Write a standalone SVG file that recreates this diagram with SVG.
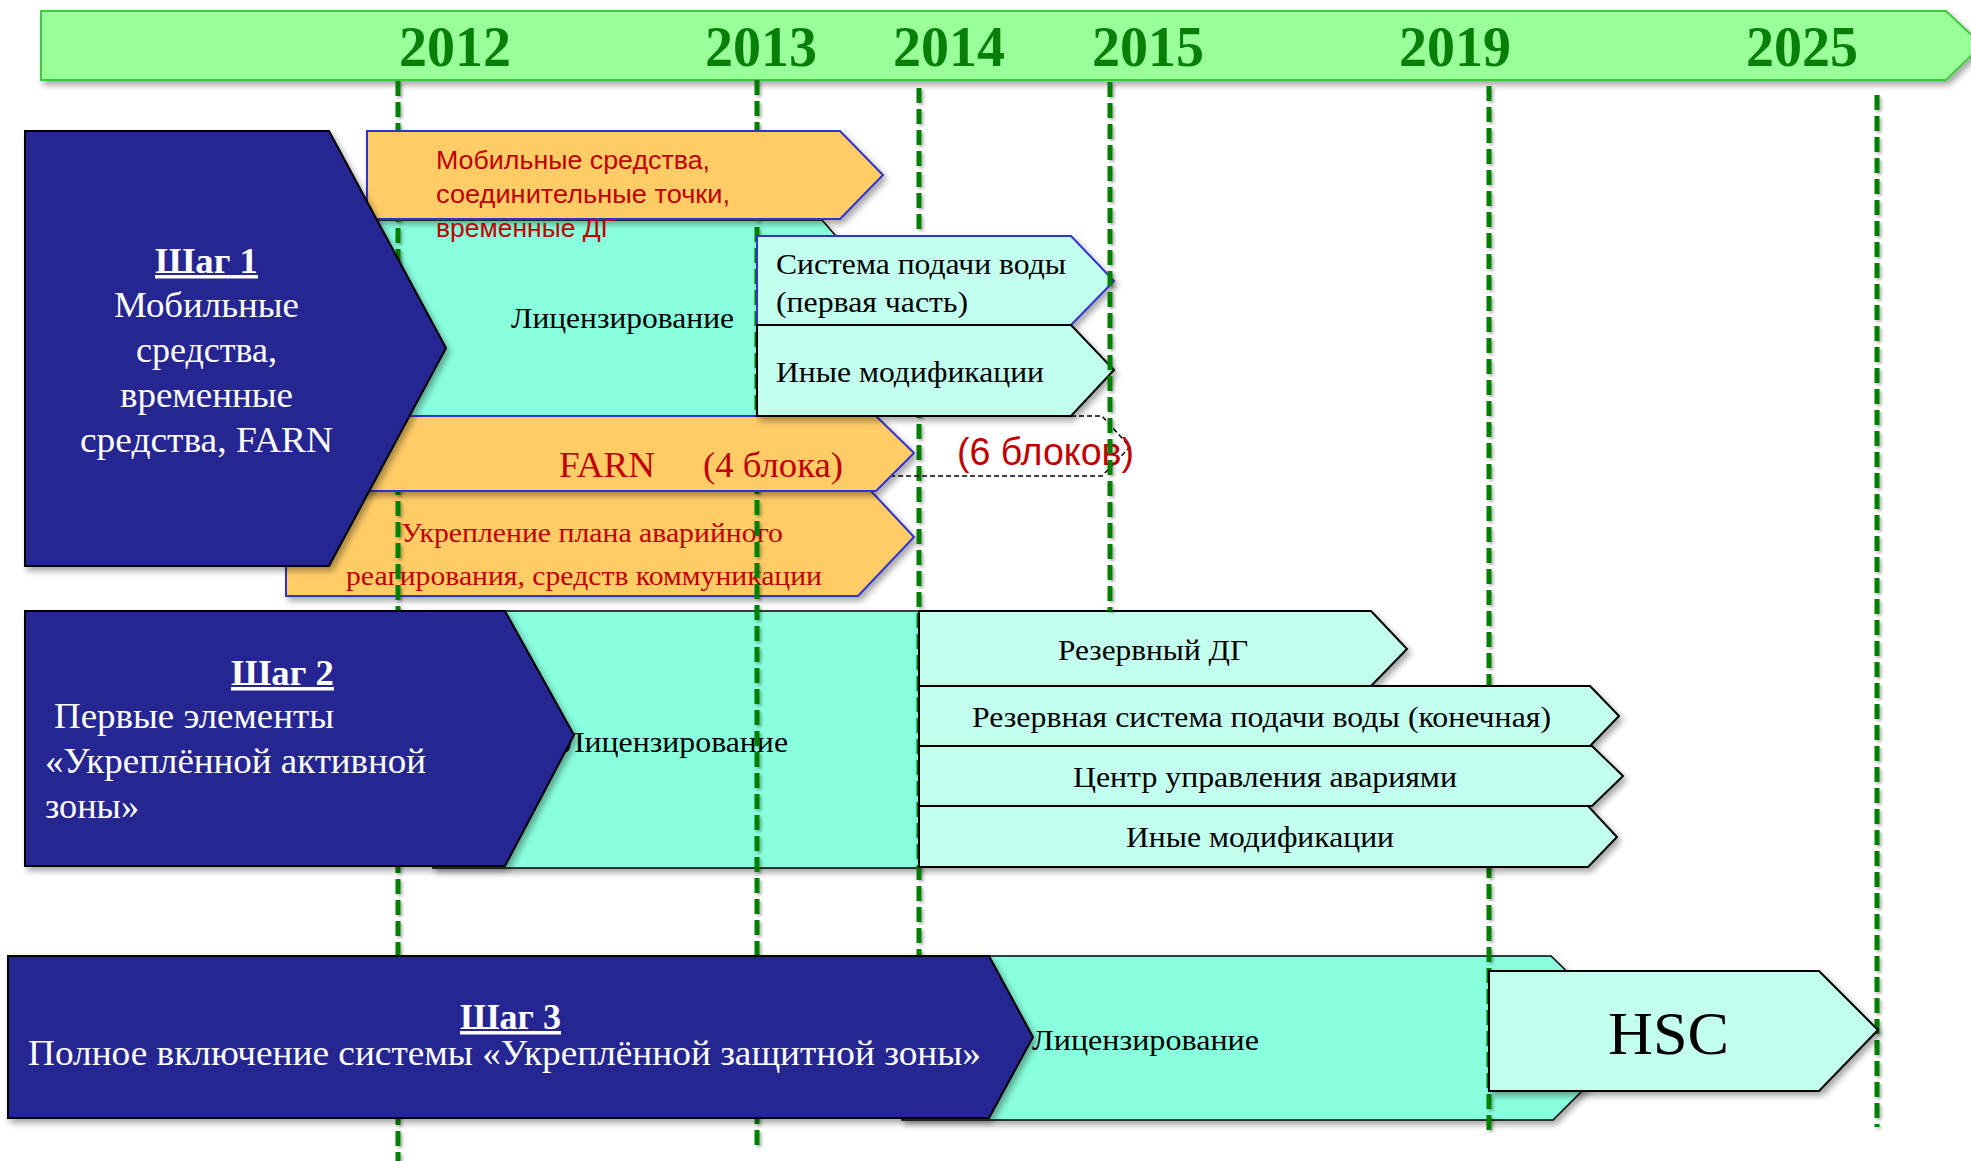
<svg xmlns="http://www.w3.org/2000/svg" width="1971" height="1161" viewBox="0 0 1971 1161">
<defs>
<filter id="sh" x="-5%" y="-10%" width="115%" height="130%">
<feDropShadow dx="3" dy="4" stdDeviation="3" flood-color="#000" flood-opacity="0.35"/>
</filter>
<filter id="lsh" filterUnits="userSpaceOnUse" x="0" y="0" width="1971" height="1161">
<feDropShadow dx="2" dy="2" stdDeviation="1.5" flood-color="#000" flood-opacity="0.3"/>
</filter>
</defs>
<style>
.ser{font-family:"Liberation Serif","Times New Roman",serif}
.san{font-family:"Liberation Sans",Arial,sans-serif}
.w{fill:#fff;font-size:35px}
.k{fill:#000}
.r{fill:#C00000}
.yr{font-family:"Liberation Serif","Times New Roman",serif;font-weight:bold;font-size:56px;fill:#087f08;text-anchor:middle}
.ul{font-weight:bold;text-decoration:underline}
.blue{fill:#262692;stroke:#000;stroke-width:2}
.teal{fill:#88FFDD;stroke:#000;stroke-width:1.5}
.lt{fill:#C2FFEE;stroke:#000;stroke-width:2}
.ltb{fill:#C2FFEE;stroke:#3333CC;stroke-width:2}
.or{fill:#FFCC66;stroke:#3333CC;stroke-width:2}
.guide{stroke:#067f06;stroke-width:5;stroke-dasharray:15 6;fill:none}
.dash{fill:none;stroke:#000;stroke-width:1.5;stroke-dasharray:5 3}
</style>

<g id="timeline">
<polygon points="41,11 1946,11 1982,45 1946,80 41,80" fill="#99FF99" stroke="#3DCB3D" stroke-width="2" filter="url(#sh)"/>
<text class="yr" x="455" y="66">2012</text>
<text class="yr" x="761" y="66">2013</text>
<text class="yr" x="949" y="66">2014</text>
<text class="yr" x="1148" y="66">2015</text>
<text class="yr" x="1455" y="66">2019</text>
<text class="yr" x="1802" y="66">2025</text>
</g>

<!-- bottom layer bars -->
<g id="lic1">
<polygon class="teal" points="340,220 822,220 907,318 822,416 340,416" filter="url(#sh)"/>
<text class="ser k" x="511" y="328" font-size="29" textLength="223" lengthAdjust="spacingAndGlyphs">Лицензирование</text>
</g>
<g id="lic2">
<polygon class="teal" points="433,611 919,611 919,868 433,868" filter="url(#sh)"/>
<text class="ser k" x="563" y="752" font-size="29" textLength="225" lengthAdjust="spacingAndGlyphs">Лицензирование</text>
</g>
<g id="lic3">
<polygon class="teal" points="902,956 1551,956 1635,1038 1553,1120 902,1120" filter="url(#sh)"/>
<text class="ser k" x="1032" y="1050" font-size="29" textLength="227" lengthAdjust="spacingAndGlyphs">Лицензирование</text>
</g>
<g id="emergency-plan">
<polygon class="or" points="286,491 871,491 914,537 858,596 286,596" filter="url(#sh)"/>
<text class="ser r" x="401" y="542" font-size="28" textLength="382" lengthAdjust="spacingAndGlyphs">Укрепление плана аварийного</text>
<text class="ser r" x="346" y="585" font-size="28" textLength="476" lengthAdjust="spacingAndGlyphs">реагирования, средств коммуникации</text>
</g>

<g id="connectors" filter="url(#lsh)">
<line class="guide" x1="398" y1="81" x2="398" y2="1161"/>
<line class="guide" x1="757" y1="80" x2="757" y2="1146"/>
<line class="guide" x1="919" y1="88" x2="919" y2="955"/>
<line class="guide" x1="1489" y1="86" x2="1489" y2="1135"/>
<line class="guide" x1="1877" y1="95" x2="1877" y2="1127"/>
</g>

<g id="mobile">
<polygon class="or" points="367,131 840,131 883,175 840,219 367,219" filter="url(#sh)"/>
<text class="san r" font-size="25"><tspan x="436" y="169" textLength="274" lengthAdjust="spacingAndGlyphs">Мобильные средства,</tspan><tspan x="436" y="203" textLength="294" lengthAdjust="spacingAndGlyphs">соединительные точки,</tspan><tspan x="436" y="237" textLength="179" lengthAdjust="spacingAndGlyphs">временные ДГ</tspan></text>
</g>

<g id="farn">
<polygon class="or" points="340,416 876,416 914,453 876,491 340,491" filter="url(#sh)"/>
<text class="ser r" font-size="35" y="477"><tspan x="559" textLength="96" lengthAdjust="spacingAndGlyphs">FARN</tspan><tspan x="703" textLength="140" lengthAdjust="spacingAndGlyphs">(4 блока)</tspan></text>
</g>
<g id="farn6">
<path class="dash" d="M1071,416 L1102,416 L1130,447 L1102,476 L892,476"/>
<text class="san r" x="957" y="465" font-size="38" textLength="177" lengthAdjust="spacingAndGlyphs">(6 блоков)</text>
</g>

<g id="water1">
<polygon class="ltb" points="757,236 1071,236 1114,281 1071,325 757,325" filter="url(#sh)"/>
<text class="ser k" x="776" y="274" font-size="29" textLength="290" lengthAdjust="spacingAndGlyphs">Система  подачи воды</text>
<text class="ser k" x="776" y="312" font-size="29" textLength="192" lengthAdjust="spacingAndGlyphs">(первая часть)</text>
</g>
<g id="other1">
<polygon class="lt" points="757,325 1071,325 1114,370 1071,416 757,416" filter="url(#sh)"/>
<text class="ser k" x="776" y="382" font-size="29" textLength="268" lengthAdjust="spacingAndGlyphs">Иные модификации</text>
</g>

<g id="step1">
<polygon class="blue" points="25,131 329,131 446,348 329,566 25,566" filter="url(#sh)"/>
<text class="ser w ul" x="155" y="273" font-size="35" textLength="103" lengthAdjust="spacingAndGlyphs">Шаг 1</text>
<text class="ser w" x="114" y="317" textLength="185" lengthAdjust="spacingAndGlyphs">Мобильные</text>
<text class="ser w" x="136" y="362" textLength="141" lengthAdjust="spacingAndGlyphs">средства,</text>
<text class="ser w" x="120" y="407" textLength="173" lengthAdjust="spacingAndGlyphs">временные</text>
<text class="ser w" x="80" y="452" textLength="253" lengthAdjust="spacingAndGlyphs">средства, FARN</text>
</g>

<g id="backup-dg">
<polygon class="lt" points="919,611 1371,611 1407,649 1371,686 919,686" filter="url(#sh)"/>
<text class="ser k" x="1058" y="660" font-size="30" textLength="190" lengthAdjust="spacingAndGlyphs">Резервный ДГ</text>
</g>
<g id="backup-water">
<polygon class="lt" points="919,686 1590,686 1619,716 1590,746 919,746" filter="url(#sh)"/>
<text class="ser k" x="972" y="727" font-size="30" textLength="579" lengthAdjust="spacingAndGlyphs">Резервная система  подачи воды (конечная)</text>
</g>
<g id="ecc">
<polygon class="lt" points="919,746 1592,746 1623,776 1592,806 919,806" filter="url(#sh)"/>
<text class="ser k" x="1073" y="787" font-size="30" textLength="384" lengthAdjust="spacingAndGlyphs">Центр управления авариями</text>
</g>
<g id="other2">
<polygon class="lt" points="919,806 1588,806 1617,837 1588,867 919,867" filter="url(#sh)"/>
<text class="ser k" x="1126" y="847" font-size="30" textLength="268" lengthAdjust="spacingAndGlyphs">Иные модификации</text>
</g>

<g id="step2">
<polygon class="blue" points="25,611 505,611 574,735 505,866 25,866" filter="url(#sh)"/>
<text class="ser w ul" x="231" y="685" textLength="103" lengthAdjust="spacingAndGlyphs">Шаг 2</text>
<text class="ser w" x="54" y="728" textLength="280" lengthAdjust="spacingAndGlyphs">Первые  элементы</text>
<text class="ser w" x="45" y="773" textLength="381" lengthAdjust="spacingAndGlyphs">«Укреплённой активной</text>
<text class="ser w" x="45" y="818" textLength="94" lengthAdjust="spacingAndGlyphs">зоны»</text>
</g>

<g id="hsc">
<polygon class="lt" points="1489,971 1819,971 1878,1030 1819,1091 1489,1091" filter="url(#sh)"/>
<text class="ser k" x="1608" y="1054" font-size="62" textLength="121" lengthAdjust="spacingAndGlyphs">HSC</text>
</g>

<g id="step3">
<polygon class="blue" points="8,956 989,956 1033,1037 989,1118 8,1118" filter="url(#sh)"/>
<text class="ser w ul" x="460" y="1029" textLength="101" lengthAdjust="spacingAndGlyphs">Шаг 3</text>
<text class="ser w" x="28" y="1065" textLength="953" lengthAdjust="spacingAndGlyphs">Полное включение системы «Укреплённой защитной зоны»</text>
</g>

<g id="guide-2015" filter="url(#lsh)">
<line class="guide" x1="1110" y1="82" x2="1110" y2="611"/>
</g>
</svg>
